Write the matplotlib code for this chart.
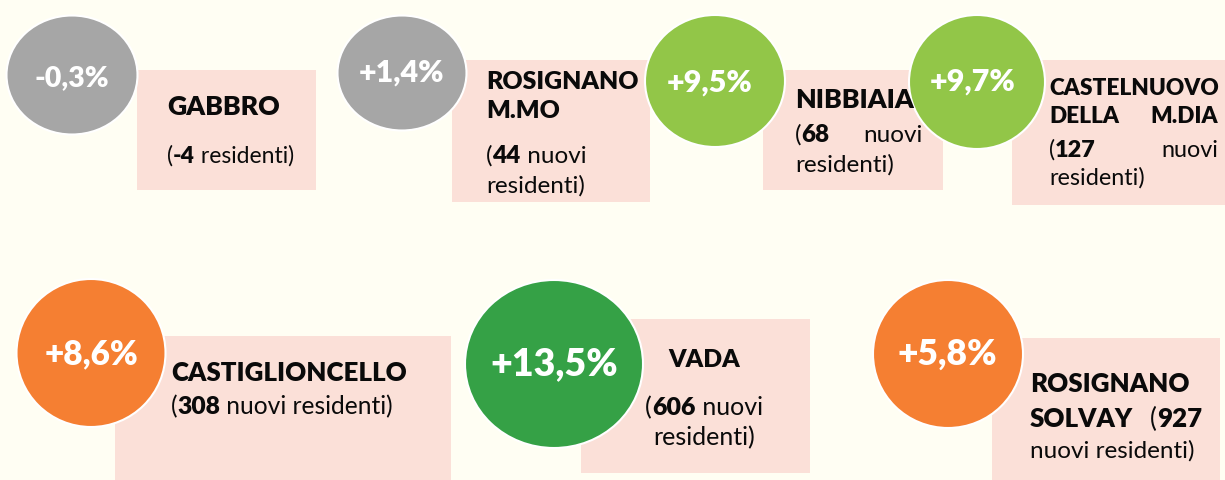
import matplotlib
matplotlib.use('Agg')
from matplotlib import pyplot as plt
from matplotlib.patches import Ellipse, Rectangle

# data
names = ['GABBRO', 'ROSIGNANO M.MO', 'NIBBIAIA', 'CASTELNUOVO DELLA M.DIA',
         'CASTIGLIONCELLO', 'VADA', 'ROSIGNANO SOLVAY']
pct_change = [-0.3, 1.4, 9.5, 9.7, 8.6, 13.5, 5.8]
new_residents = [-4, 44, 68, 127, 308, 606, 927]
circle_colors = ['#A6A6A6', '#A6A6A6', '#92C648', '#92C648',
                 '#F57F32', '#35A146', '#F57F32']

# text layout: '**' = bold, '|' = justified gap
line_templates = [
    ['**{w[0]}**', '(**{n}** residenti)'],
    ['**{w[0]}**', '**{w[1]}**', '(**{n}** nuovi', 'residenti)'],
    ['**{w[0]}**', '(**{n}**|nuovi', 'residenti)'],
    ['**{w[0]}**', '**{w[1]}**|**{w[2]}**', '(**{n}**|nuovi', 'residenti)'],
    ['**{w[0]}**', '(**{n}** nuovi residenti)'],
    ['**{w[0]}**', '(**{n}** nuovi', 'residenti)'],
    ['**{w[0]}**', '**{w[1]}**|(**{n}**', 'nuovi residenti)'],
]

# layout (pixels, origin top-left)
circles = [(72, 75, 131, 119), (402, 73, 129, 115), (715, 81, 140, 132),
           (977, 82, 136, 134), (91, 353, 149, 148), (554, 364, 178, 168),
           (948, 354, 150, 148)]
pct_pos = [(72, 86), (401, 82), (710, 92), (973, 91), (92, 364), (554, 375), (947, 365)]
pct_size = [20.5, 22, 22, 22, 24, 27, 25.5]
boxes = [(137, 70, 179, 120), (452, 60, 198, 142), (763, 70, 180, 120),
         (1012, 60, 213, 145), (115, 336, 336, 144), (581, 319, 229, 154),
         (992, 338, 228, 142)]
text_x = [167, 486, 795, 1049, 171, 704, 1030]
text_align = ['left', 'left', 'left', 'left', 'left', 'center', 'left']
text_right = [None, None, 923, 1218, None, None, 1202]
baselines = [[115, 163], [89, 118, 163, 193], [108, 142, 172], [95, 123, 157, 185],
             [381, 414], [367, 415, 445], [392, 427, 458]]
name_size = [19.2, 17.9, 19.2, 16.3, 18.6, 17.8, 18.6]
detail_size = [16.5, 17.5, 17.5, 16.8, 17.7, 18, 17.5]

BG = '#FFFEF3'
BOX = '#FBE0D8'
FONT = 'Lato'

fig = plt.figure(figsize=(12.25, 4.8), dpi=100, facecolor=BG)
ax = fig.add_axes([0, 0, 1, 1])
ax.set_xlim(0, 1225)
ax.set_ylim(480, 0)
ax.axis('off')
ax.set_facecolor(BG)
renderer = fig.canvas.get_renderer()


def parse_runs(s):
    parts = s.split('**')
    return [(p, i % 2 == 1) for i, p in enumerate(parts) if p]


def draw_runs(x, y, runs, size):
    for txt, bold in runs:
        t = ax.text(x, y, txt, fontsize=size, fontfamily=FONT,
                    fontweight='heavy' if bold else 'normal',
                    va='baseline', ha='left', color='#0A0A0A', zorder=6)
        bb = t.get_window_extent(renderer)
        x += bb.width
    return x


def runs_width(runs, size):
    t0 = draw_runs(0, -100, runs, size)
    for t in ax.texts[-len(runs):]:
        t.remove()
    return t0


for bx, by, bw, bh in boxes:
    ax.add_patch(Rectangle((bx, by), bw, bh, facecolor=BOX, edgecolor='none', zorder=1))

for (cx, cy, w, h), c in zip(circles, circle_colors):
    ax.add_patch(Ellipse((cx, cy), w, h, facecolor=c, edgecolor='white', lw=1.5, zorder=2))

for i in range(len(names)):
    px, py = pct_pos[i]
    lab = f'{pct_change[i]:+.1f}%'.replace('.', ',')
    ax.text(px, py, lab, fontsize=pct_size[i], fontfamily=FONT, fontweight='heavy',
            color='white', ha='center', va='baseline', zorder=5)

    w = names[i].split()
    for j, tpl in enumerate(line_templates[i]):
        line = tpl.format(w=w, n=new_residents[i])
        is_name = line.startswith('**') and not line.startswith('**' + str(new_residents[i]))
        size = name_size[i] if is_name else detail_size[i]
        y0 = baselines[i][j]
        if '|' in line:
            left, right = line.split('|')
            draw_runs(text_x[i], y0, parse_runs(left), size)
            rr = parse_runs(right)
            rw = runs_width(rr, size)
            draw_runs(text_right[i] - rw, y0, rr, size)
        else:
            runs = parse_runs(line)
            x0 = text_x[i]
            if text_align[i] == 'center':
                x0 -= runs_width(runs, size) / 2
            draw_runs(x0, y0, runs, size)

fig.savefig('out.png', dpi=100, facecolor=BG)
